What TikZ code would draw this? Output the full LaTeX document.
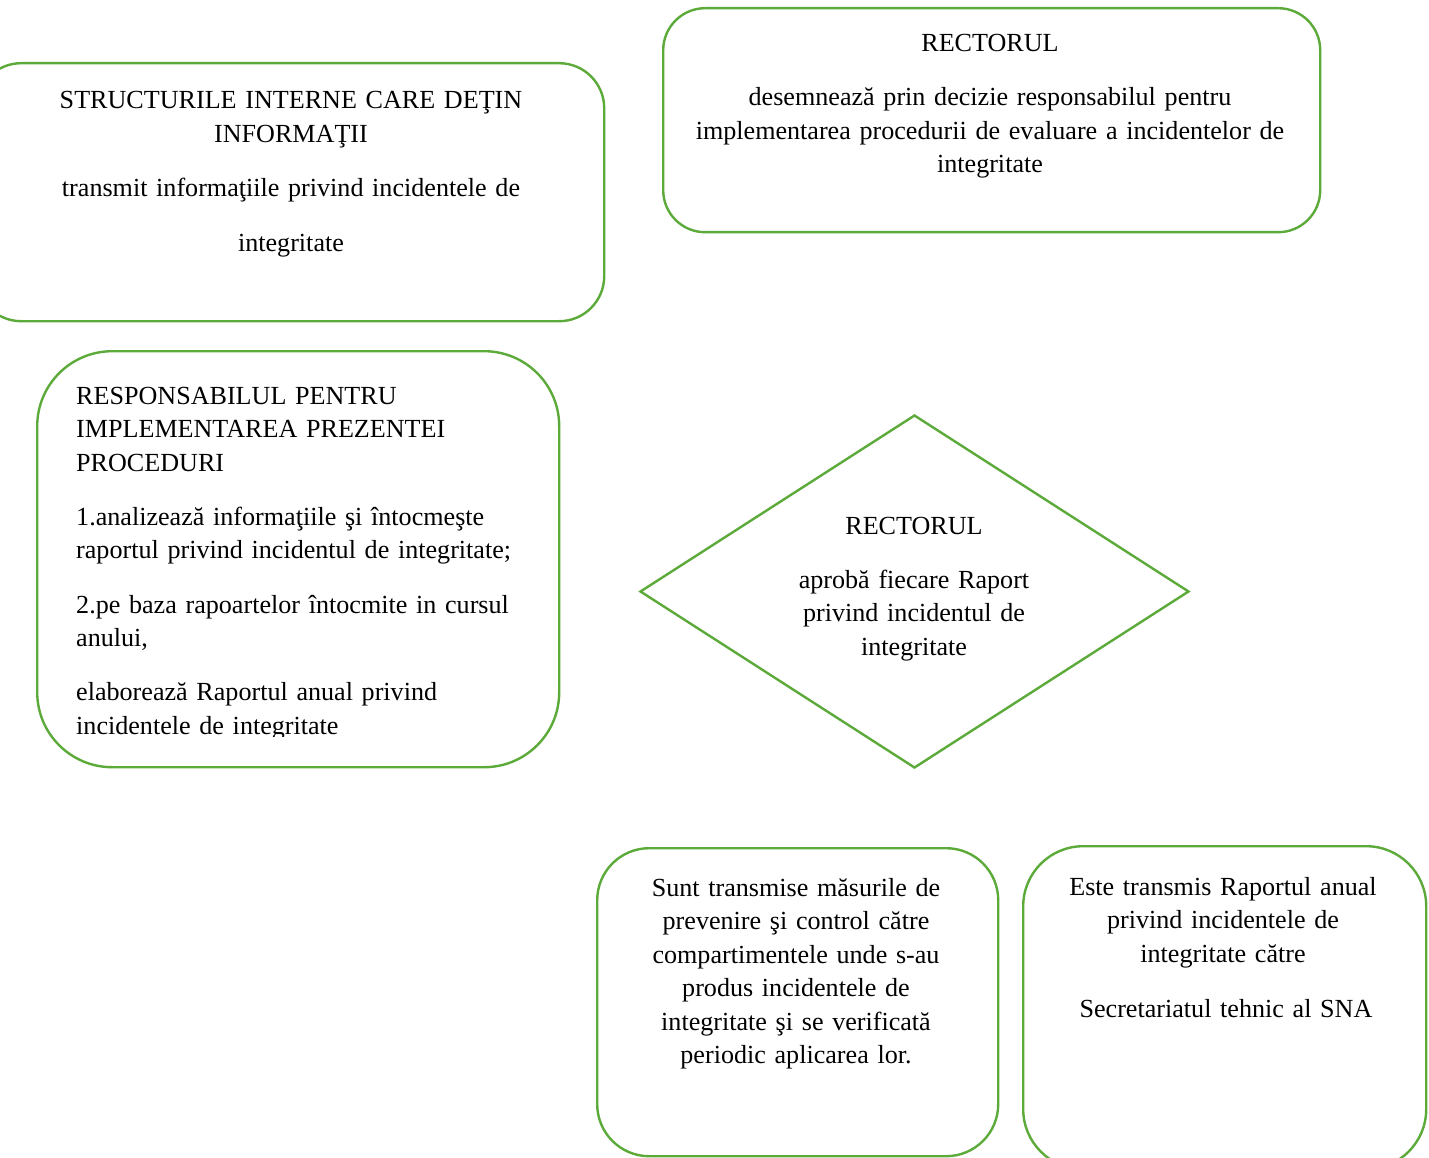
\documentclass[tikz,border=0pt]{standalone}
\usepackage{fontspec}
\setmainfont{Liberation Serif}
\usetikzlibrary{shapes.geometric}
\definecolor{boxgreen}{RGB}{92,170,58}
\begin{document}
\begin{tikzpicture}[x=1pt,y=-1pt,
  box/.style={draw=boxgreen, line width=2.4pt, rounded corners=#1, inner sep=0pt, anchor=north west},
  dia/.style={draw=boxgreen, line width=2.4pt, diamond, inner sep=0pt},
  txt/.style={font=\fontsize{26.1}{33.5}\selectfont, inner sep=0pt, anchor=base, align=center}]
\useasboundingbox (0,0) rectangle (1429,1158);
% boxes
\node[box=45pt, minimum width=628pt, minimum height=258pt] (structuri) at (-25,62) {};
\node[box=42pt, minimum width=657pt, minimum height=224pt] (rector1) at (662,7) {};
\node[box=75pt, minimum width=522pt, minimum height=416pt] (resp) at (36,350) {};
\node[dia, minimum width=549pt, minimum height=353pt] (rector2) at (914.5,591.5) {};
\node[box=52pt, minimum width=401pt, minimum height=308pt] (masuri) at (596,847) {};
\node[box=60pt, minimum width=403pt, minimum height=323pt] (raport) at (1022,845) {};
% texts
\node[txt, text width=600pt] (structuritxt) at (291,109)
  {STRUCTURILE INTERNE CARE DEŢIN\\INFORMAŢII\\[20.5pt]transmit informaţiile privind incidentele de\\[21.5pt]integritate};
\node[txt, text width=640pt] (rector1txt) at (990,52)
  {RECTORUL\\[20.5pt]desemnează prin decizie responsabilul pentru\\implementarea procedurii de evaluare a incidentelor de\\integritate};
\begin{scope}
\clip (0,340) rectangle (1429,736);
\node[txt, anchor=base west, text width=470pt, align=left] (resptxt) at (76,404)
  {RESPONSABILUL PENTRU\\IMPLEMENTAREA PREZENTEI\\PROCEDURI\\[20.5pt]1.analizează informaţiile şi întocmeşte\\raportul privind incidentul de integritate;\\[21pt]2.pe baza rapoartelor întocmite in cursul\\anului,\\[20.5pt]elaborează Raportul anual privind\\incidentele de integritate};
\end{scope}
\node[txt, text width=400pt] (rector2txt) at (914,534)
  {RECTORUL\\[20.5pt]aprobă fiecare Raport\\privind incidentul de\\integritate};
\node[txt, text width=390pt] (masuritxt) at (796,896)
  {Sunt transmise măsurile de\\prevenire şi control către\\compartimentele unde s-au\\produs incidentele de\\integritate şi se verificată\\periodic aplicarea lor.};
\node[txt, text width=390pt] (raporttxt) at (1223,895)
  {Este transmis Raportul anual\\privind incidentele de\\integritate către\\[21.5pt]\hspace*{6pt}Secretariatul tehnic al SNA};
\end{tikzpicture}
\end{document}
